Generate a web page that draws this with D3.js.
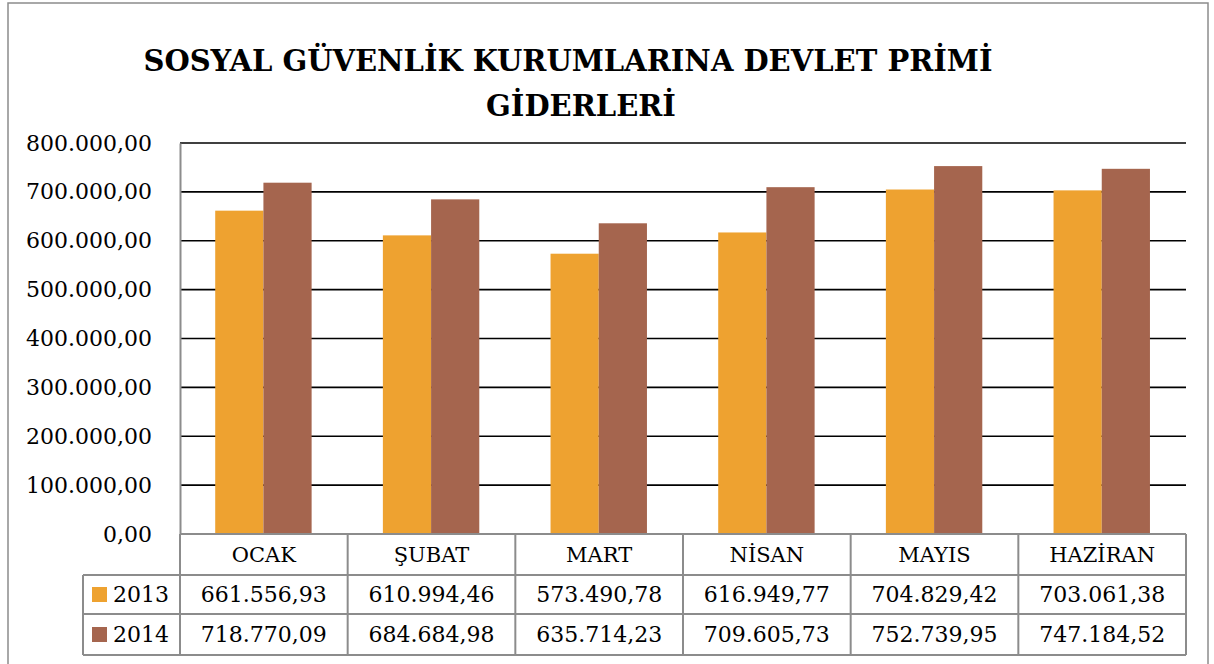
<!DOCTYPE html>
<meta charset="utf-8">
<style>
body { margin: 0; background: #fff; }
text { font-family: "DejaVu Serif", serif; fill: #000; }
.grid line { stroke: #000; stroke-width: 1.6px; }
.tbl line { stroke: #8c8c8c; stroke-width: 2px; }
</style>
<body>
<script src="https://d3js.org/d3.v7.min.js"></script>
<script>

// data
var months = ["OCAK", "ŞUBAT", "MART", "NİSAN", "MAYIS", "HAZİRAN"];
var series = ["2013", "2014"];
var values2013 = [661556.93, 610994.46, 573490.78, 616949.77, 704829.42, 703061.38];
var values2014 = [718770.09, 684684.98, 635714.23, 709605.73, 752739.95, 747184.52];
var yTicks = [0, 100000, 200000, 300000, 400000, 500000, 600000, 700000, 800000];
var colors = ["#eea230", "#a5654e"];

var allValues = [values2013, values2014];

var W = 1214, H = 664;
var plot = {left: 180, right: 1186, top: 143, bottom: 534};
var rowH = [41, 39, 41]; // category row, 2013 row, 2014 row

var trFmt = d3.formatLocale({decimal: ",", thousands: ".", grouping: [3], currency: ["", ""]}).format(",.2f");

var svg = d3.select("body").append("svg")
    .attr("width", W)
    .attr("height", H);

// outer chart frame
svg.append("rect")
    .attr("x", 8).attr("y", 3)
    .attr("width", 1200).attr("height", 700)
    .attr("fill", "none")
    .attr("stroke", "#8c8c8c")
    .attr("stroke-width", 1.5);

// title
var title = svg.append("text")
    .attr("text-anchor", "middle")
    .style("font-weight", "bold")
    .style("font-size", "29px");
title.append("tspan").attr("x", 568).attr("y", 71).text("SOSYAL GÜVENLİK KURUMLARINA DEVLET PRİMİ");
title.append("tspan").attr("x", 581).attr("y", 116).text("GİDERLERİ");

var x = d3.scaleBand()
    .domain(months)
    .range([plot.left, plot.right]);

var bw = x.bandwidth();
var xs = d3.scaleBand()
    .domain(series)
    .range([bw * 0.21, bw * 0.785]);

var y = d3.scaleLinear()
    .domain([0, 800000])
    .range([plot.bottom, plot.top]);

// gridlines
svg.append("g")
    .attr("class", "grid")
    .selectAll("line")
    .data(yTicks.filter(function(d) { return d > 0; }))
    .enter().append("line")
    .attr("x1", plot.left).attr("x2", plot.right)
    .attr("y1", function(d) { return y(d); })
    .attr("y2", function(d) { return y(d); });

// y axis labels
var yAxis = svg.append("g")
    .attr("transform", "translate(" + plot.left + ",0)")
    .call(d3.axisLeft(y).tickValues(yTicks).tickFormat(trFmt).tickSize(0).tickPadding(28));
yAxis.select(".domain").attr("stroke", "#8c8c8c").attr("stroke-width", 2);
yAxis.selectAll("text")
    .style("font-family", "DejaVu Serif, serif")
    .style("font-size", "22px")
    .attr("fill", "#000");

// bars
series.forEach(function(s, i) {
  svg.append("g")
      .selectAll("rect")
      .data(months)
      .enter().append("rect")
      .attr("x", function(d) { return x(d) + xs(s); })
      .attr("width", xs.bandwidth())
      .attr("y", function(d, j) { return y(allValues[i][j]); })
      .attr("height", function(d, j) { return y(0) - y(allValues[i][j]); })
      .attr("fill", colors[i]);
});

// data table
var tbl = svg.append("g").attr("class", "tbl");
var rowTop = [plot.bottom, plot.bottom + rowH[0], plot.bottom + rowH[0] + rowH[1]];
var tblBottom = rowTop[2] + rowH[2];
var legendLeft = 83;

// horizontal lines
tbl.append("line").attr("x1", plot.left).attr("x2", plot.right).attr("y1", rowTop[0]).attr("y2", rowTop[0]);
[rowTop[1], rowTop[2], tblBottom].forEach(function(yy) {
  tbl.append("line").attr("x1", legendLeft).attr("x2", plot.right).attr("y1", yy).attr("y2", yy);
});
// vertical lines
months.forEach(function(m) {
  tbl.append("line").attr("x1", x(m)).attr("x2", x(m)).attr("y1", rowTop[0]).attr("y2", tblBottom);
});
tbl.append("line").attr("x1", plot.right).attr("x2", plot.right).attr("y1", rowTop[0]).attr("y2", tblBottom);
tbl.append("line").attr("x1", legendLeft).attr("x2", legendLeft).attr("y1", rowTop[1]).attr("y2", tblBottom);

// category labels
tbl.selectAll(".cat")
    .data(months)
    .enter().append("text")
    .attr("class", "cat")
    .attr("x", function(d) { return x(d) + bw / 2; })
    .attr("y", rowTop[0] + rowH[0] / 2)
    .attr("dy", "0.36em")
    .attr("text-anchor", "middle")
    .style("font-size", "21px")
    .text(function(d) { return d; });

// series rows
series.forEach(function(s, i) {
  var cy = rowTop[i + 1] + rowH[i + 1] / 2;
  tbl.append("rect")
      .attr("x", 92).attr("y", cy - 7.5)
      .attr("width", 15).attr("height", 15)
      .attr("fill", colors[i]);
  tbl.append("text")
      .attr("x", 113).attr("y", cy).attr("dy", "0.36em")
      .style("font-size", "22px")
      .text(s);
  tbl.selectAll(".v" + s)
      .data(months)
      .enter().append("text")
      .attr("x", function(d) { return x(d) + bw / 2; })
      .attr("y", cy).attr("dy", "0.36em")
      .attr("text-anchor", "middle")
      .style("font-size", "22px")
      .text(function(d, j) { return trFmt(allValues[i][j]); });
});

</script>
</body>
